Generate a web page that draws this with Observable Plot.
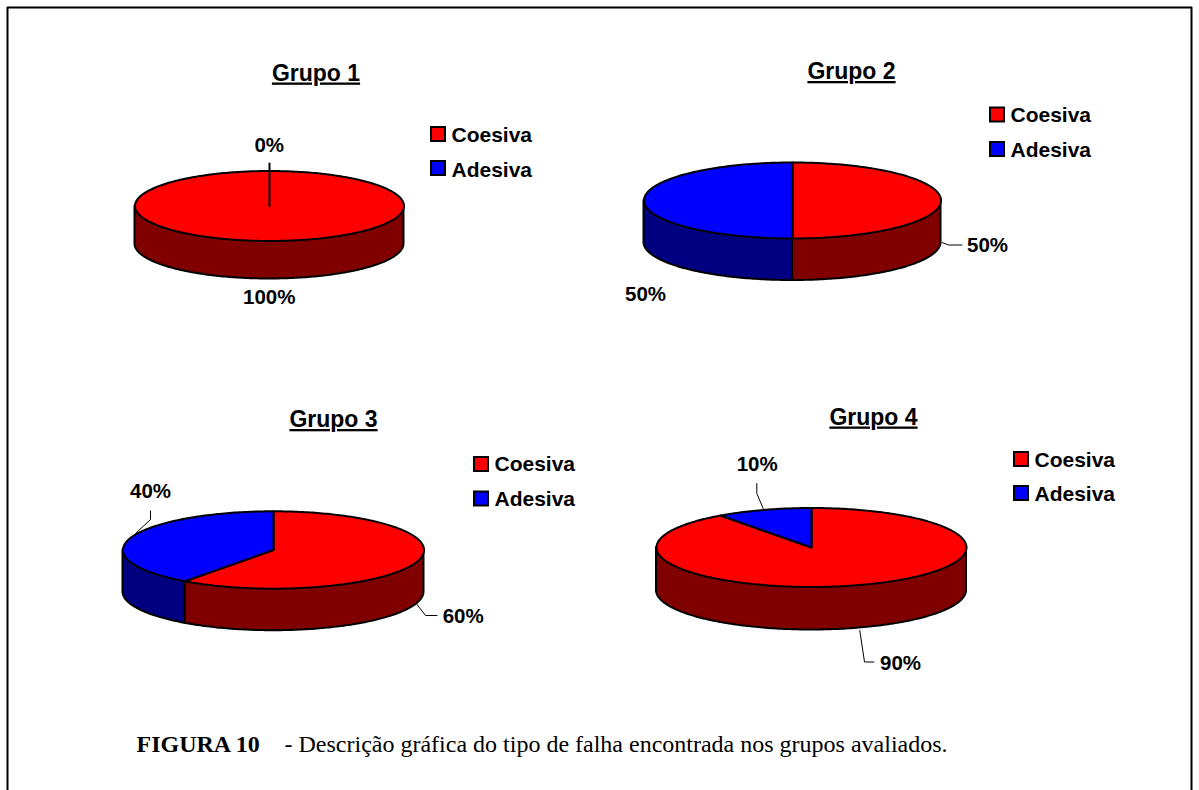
<!DOCTYPE html>
<html lang="pt">
<head>
<meta charset="utf-8">
<title>Tipo de falha por grupo</title>
<script src="https://cdn.jsdelivr.net/npm/d3@7"></script>
<script src="https://cdn.jsdelivr.net/npm/@observablehq/plot@0.6"></script>
<style>
  html, body { margin: 0; padding: 0; background: #fff; }
  svg { display: block; }
  .titulo text { text-decoration: underline; }
</style>
</head>
<body>
<div id="chart"></div>
<script>
// Percent of failures by type, per group
const grupos = ["Grupo 1", "Grupo 2", "Grupo 3", "Grupo 4"];
const tipos = ["Coesiva", "Adesiva"];
const coesiva = [100, 50, 60, 90];
const adesiva = [0, 50, 40, 10];

const topColors = { Coesiva: "#ff0000", Adesiva: "#0000ff" };
const sideColors = { Coesiva: "#800000", Adesiva: "#000080" };

// Placement of each pie in the page
const pies = [
  { cx: 269, cy: 205.5, rx: 134.5, ry: 35, depth: 38 },
  { cx: 792, cy: 200, rx: 148.5, ry: 38, depth: 42 },
  { cx: 273, cy: 549.5, rx: 150.5, ry: 38.7, depth: 42 },
  { cx: 811, cy: 547, rx: 155, ry: 39.5, depth: 43 }
];
const titlePos = [[315.5, 80], [851, 78.5], [333, 426.5], [873, 424]];
const legendPos = [
  { x: 431, y: [127, 161], ty: [141.5, 176] },
  { x: 990, y: [107.5, 142], ty: [121.5, 156] },
  { x: 474, y: [457, 491.5], ty: [470.5, 505] },
  { x: 1014, y: [452, 486], ty: [466.5, 500.5] }
];
const labelPos = [
  { Coesiva: [268.7, 303], Adesiva: [268.7, 151.5] },
  { Coesiva: [987, 251.5], Adesiva: [645, 300] },
  { Coesiva: [462.7, 622], Adesiva: [150, 497] },
  { Coesiva: [900, 669], Adesiva: [756.7, 470.5] }
];
const leaders = [
  { pts: [[941.5, 242], [948, 244.5], [961.5, 244.5]], w: 1 },
  { pts: [[135, 533], [150, 519], [150, 510.5]], w: 1 },
  { pts: [[416.5, 604], [425, 615], [436.5, 615]], w: 1 },
  { pts: [[756.3, 483], [756.3, 493], [762.7, 508]], w: 1 },
  { pts: [[859.3, 630], [864, 661.5], [873.5, 661.5]], w: 1 },
  { pts: [[269, 171], [269, 163]], w: 2 }
];
const frame = [[7, 790], [7, 7], [1191, 7], [1191, 790]];

const sans = "Liberation Sans, Arial, sans-serif";
const serif = "Liberation Serif, Times New Roman, serif";

// Angle runs clockwise from twelve o'clock, in degrees
const rim = (p, t) => {
  const a = (t * Math.PI) / 180;
  return { x: p.cx + p.rx * Math.sin(a), y: p.cy - p.ry * Math.cos(a) };
};
const arc = (p, a0, a1) => {
  const out = [];
  for (let t = a0; t < a1; t += 1) out.push(rim(p, t));
  out.push(rim(p, a1));
  return out;
};

// Turn the values into angular spans, then into faces
const slices = pies.flatMap((p, i) => {
  let start = 0;
  return tipos.map((tipo, k) => {
    const value = (k === 0 ? coesiva : adesiva)[i];
    const end = start + (value / 100) * 360;
    const s = { p, i, tipo, value, a0: start, a1: end };
    start = end;
    return s;
  });
});

const wallMarks = slices.flatMap((s) => {
  const a0 = Math.max(s.a0, 90);
  const a1 = Math.min(s.a1, 270);
  if (a1 <= a0) return [];
  const pts = arc(s.p, a0, a1).map((d) => ({ ...d, yb: d.y + s.p.depth }));
  return [Plot.area(pts, {
    x1: "x", y1: "y", y2: "yb",
    fill: sideColors[s.tipo], stroke: "#000", strokeWidth: 2, strokeLinejoin: "round"
  })];
});

const faceMarks = slices.map((s) => {
  const centre = { x: s.p.cx, y: s.p.cy };
  const full = s.value === 100;
  const pts = full ? arc(s.p, s.a0, s.a1) : [centre, ...arc(s.p, s.a0, s.a1), centre];
  return Plot.line(pts, {
    x: "x", y: "y",
    fill: topColors[s.tipo], stroke: "#000", strokeWidth: 2, strokeLinejoin: "round"
  });
});

const leaderMarks = leaders.map((l) =>
  Plot.line(l.pts, { x: (d) => d[0], y: (d) => d[1], stroke: "#000", strokeWidth: l.w })
);

const titles = grupos.map((g, i) => ({ text: g, x: titlePos[i][0], y: titlePos[i][1] }));
const swatches = legendPos.flatMap((l) =>
  tipos.map((tipo, k) => ({ tipo, x1: l.x, x2: l.x + 14, y1: l.y[k], y2: l.y[k] + 14 }))
);
const legendTexts = legendPos.flatMap((l) =>
  tipos.map((tipo, k) => ({ text: tipo, x: l.x + 20, y: l.ty[k] }))
);
const percentLabels = slices.map((s) => ({
  text: `${s.value}%`,
  x: labelPos[s.i][s.tipo][0],
  y: labelPos[s.i][s.tipo][1]
}));

const textOpts = {
  x: "x", y: "y", text: "text", lineAnchor: "bottom",
  fontFamily: sans, fontWeight: "bold", fill: "#000"
};

const chart = Plot.plot({
  width: 1199,
  height: 790,
  margin: 0,
  x: { domain: [0, 1199], range: [0, 1199], axis: null },
  y: { domain: [0, 790], range: [0, 790], axis: null },
  style: { background: "#fff" },
  marks: [
    Plot.line(frame, { x: (d) => d[0], y: (d) => d[1], stroke: "#000", strokeWidth: 2 }),
    ...wallMarks,
    ...faceMarks,
    ...leaderMarks,
    Plot.rect(swatches, {
      x1: "x1", x2: "x2", y1: "y1", y2: "y2",
      fill: (d) => topColors[d.tipo], stroke: "#000", strokeWidth: 2
    }),
    Plot.text(titles, { ...textOpts, fontSize: 23, textAnchor: "middle", className: "titulo" }),
    Plot.text(legendTexts, { ...textOpts, fontSize: 21, textAnchor: "start" }),
    Plot.text(percentLabels, { ...textOpts, fontSize: 20.5, textAnchor: "middle" }),
    Plot.text(["FIGURA 10"], {
      x: () => 136, y: () => 751, text: (d) => d, lineAnchor: "bottom", textAnchor: "start",
      fontFamily: serif, fontWeight: "bold", fontSize: 24, fill: "#000"
    }),
    Plot.text(["- Descrição gráfica do tipo de falha encontrada nos grupos avaliados."], {
      x: () => 284, y: () => 751, text: (d) => d, lineAnchor: "bottom", textAnchor: "start",
      fontFamily: serif, fontSize: 24, fill: "#000"
    })
  ]
});
document.getElementById("chart").append(chart);
</script>
</body>
</html>
